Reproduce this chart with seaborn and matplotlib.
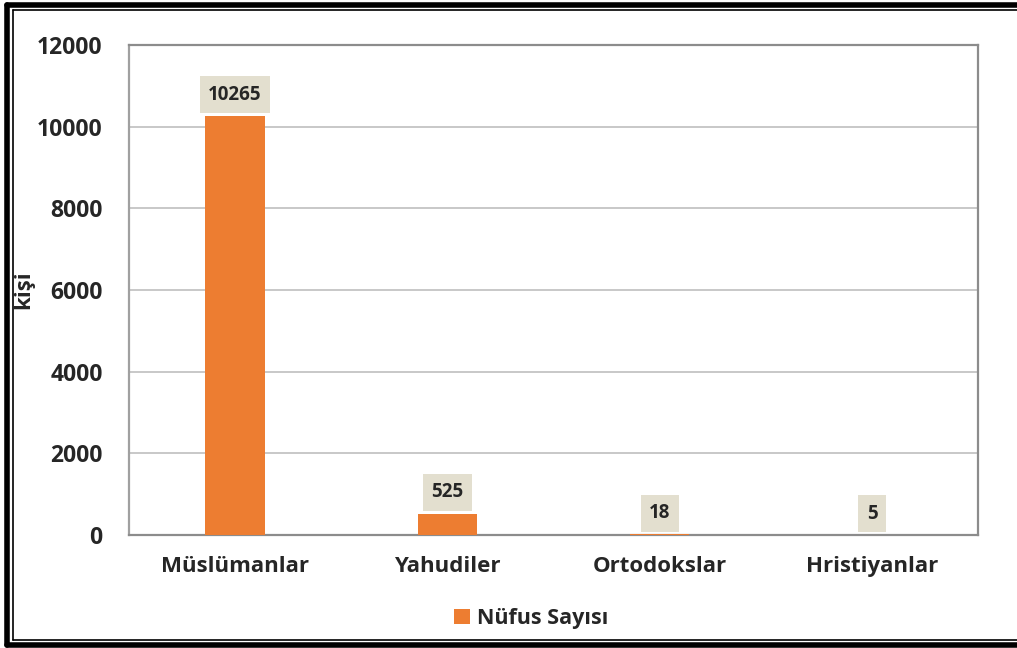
import matplotlib
matplotlib.use('Agg')
import matplotlib.pyplot as plt
import seaborn as sns
from matplotlib.lines import Line2D

# veriler
kategoriler = ['Müslümanlar', 'Yahudiler', 'Ortodokslar', 'Hristiyanlar']
nufus = [10265, 525, 18, 5]
seri_adi = 'Nüfus Sayısı'
y_ticks = [0, 2000, 4000, 6000, 8000, 10000, 12000]

sns.set_style('white')
plt.rcParams['font.family'] = ['Open Sans', 'DejaVu Sans']
plt.rcParams['font.weight'] = 'bold'

turuncu = '#ED7D31'
gri = '#8c8c8c'

fig = plt.figure(figsize=(10.17, 6.48), dpi=100)
ax = fig.add_axes([0.1268, 0.1744, 0.835, 0.7562])

sns.barplot(x=kategoriler, y=nufus, color=turuncu, width=0.28, ax=ax,
            label=seri_adi, saturation=1, linewidth=0, zorder=3)

ax.set_ylim(0, 12000)
ax.set_xlim(-0.5, 3.5)
ax.set_yticks(y_ticks)
ax.set_yticklabels([str(t) for t in y_ticks], fontsize=16.5, fontweight='bold')
ax.yaxis.grid(True, color='#c4c4c4', linewidth=1.3, zorder=0)
ax.tick_params(axis='y', length=7, color=gri, width=1.3, pad=12)

# kategori sinirlarinda tik
ax.set_xticks(range(len(kategoriler)))
ax.set_xticklabels(kategoriler, fontsize=16, fontweight='bold')
ax.set_xticks([-0.5, 0.5, 1.5, 2.5, 3.5], minor=True)
ax.tick_params(axis='x', which='major', length=0, pad=15)
ax.tick_params(axis='x', which='minor', length=7, color=gri, width=1.3)
ax.set_xlabel('')
ax.set_ylabel('kişi', fontsize=16, fontweight='bold', labelpad=2)

for s in ['left', 'bottom', 'right', 'top']:
    ax.spines[s].set_color(gri)
    ax.spines[s].set_linewidth(1.6)
ax.spines['left'].set_color('#a0a0a0')

# veri etiketleri
for i, v in enumerate(nufus):
    ax.annotate(str(v), (i, v), xytext=(0, 8), textcoords='offset points',
                ha='center', va='bottom', fontsize=13.5, fontweight='bold',
                bbox=dict(boxstyle='square,pad=0.45', facecolor='#e3dfcf',
                          edgecolor='none'), zorder=5)

leg = ax.legend(loc='upper center', bbox_to_anchor=(0.474, -0.11), frameon=False,
                prop={'size': 15.5, 'weight': 'bold'}, handlelength=0.7,
                handleheight=0.7, handletextpad=0.35)

# cerceve
for xs, ys, lw in [([0.007, 0.007], [0.005, 0.993], 4),
                   ([0.007, 1.0], [0.993, 0.993], 4),
                   ([0.007, 1.0], [0.005, 0.005], 4),
                   ([0.0125, 0.0125], [0.013, 0.985], 1.2),
                   ([0.0125, 1.0], [0.985, 0.985], 1.2),
                   ([0.0125, 1.0], [0.013, 0.013], 1.2)]:
    fig.add_artist(Line2D(xs, ys, transform=fig.transFigure, color='black', linewidth=lw))

fig.savefig('out.png', dpi=100)
